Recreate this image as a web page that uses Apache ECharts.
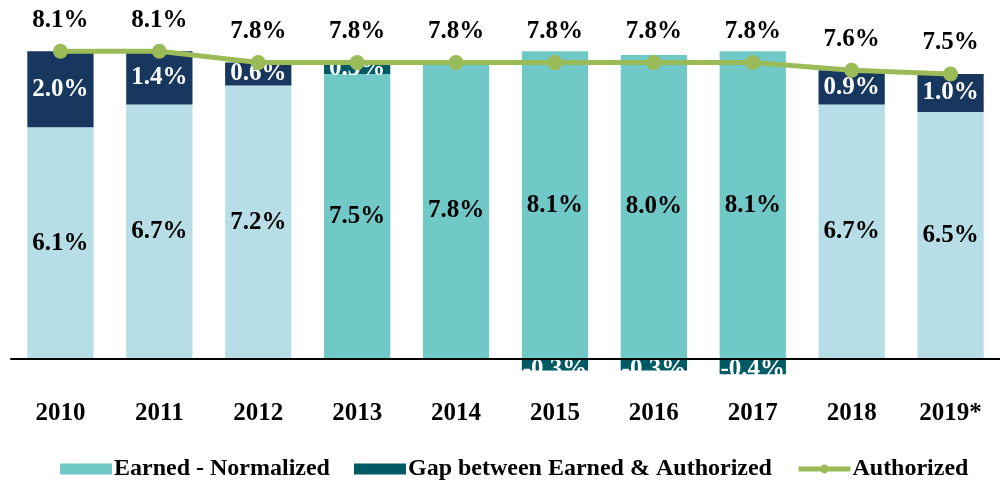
<!DOCTYPE html>
<html><head><meta charset="utf-8">
<script src="https://cdn.jsdelivr.net/npm/echarts@6/dist/echarts.min.js"></script>
<style>html,body{margin:0;padding:0;background:#fff}#c{width:1000px;height:481px}</style>
</head><body><div id="c"></div>
<script>
var years = ['2010','2011','2012','2013','2014','2015','2016','2017','2018','2019*'];
var earned = [6.1, 6.7, 7.2, 7.5, 7.8, 8.1, 8.0, 8.1, 6.7, 6.5];
var gap = [2.0, 1.4, 0.6, 0.3, 0, -0.3, -0.3, -0.4, 0.9, 1.0];
var authorized = [8.1, 8.1, 7.8, 7.8, 7.8, 7.8, 7.8, 7.8, 7.6, 7.5];
var earnedColors = ['#b7dde7','#b7dde7','#b7dde7','#70c9c6','#70c9c6','#70c9c6','#70c9c6','#70c9c6','#b7dde7','#b7dde7'];
var gapColors = ['#17375e','#17375e','#17375e','#005a64','#005a64','#005a64','#005a64','#005a64','#17375e','#17375e'];

var FONT = 'Liberation Serif';
var fmt = function(v){ return v.toFixed(1) + '%'; };

var chart = echarts.init(document.getElementById('c'));
chart.setOption({
  animation: false,
  textStyle: { fontFamily: FONT },
  grid: { left: 11, width: 993, top: 17, bottom: 84, containLabel: false },
  legend: {
    top: 452, left: 55,
    itemWidth: 52, itemHeight: 11, itemGap: 24,
    textStyle: { fontFamily: FONT, fontWeight: 'bold', fontSize: 24, color: '#000', padding: [0,0,0,-3] },
    data: [
      { name: 'Earned - Normalized', icon: 'rect' },
      { name: 'Gap between Earned & Authorized', icon: 'rect' },
      { name: 'Authorized', lineStyle: { width: 5 } }
    ]
  },
  xAxis: {
    type: 'category', data: years, z: 10,
    axisLine: { onZero: true, lineStyle: { color: '#000', width: 2 } },
    axisTick: { show: false },
    axisLabel: { margin: 4, fontFamily: FONT, fontWeight: 'bold', fontSize: 25, color: '#000' }
  },
  yAxis: { type: 'value', min: -1, max: 9, show: false, splitLine: { show: false } },
  series: [
    {
      name: 'Earned - Normalized', type: 'bar', stack: 'a', barWidth: '67%',
      itemStyle: { color: '#70c9c6' },
      data: earned.map(function(v, i){ return { value: v, itemStyle: { color: earnedColors[i] } }; }),
      label: { show: true, position: 'inside', fontFamily: FONT, fontWeight: 'bold', fontSize: 25, color: '#000',
        formatter: function(p){ return fmt(p.value); } }
    },
    {
      name: 'Gap between Earned & Authorized', type: 'bar', stack: 'a', barWidth: '67%',
      itemStyle: { color: '#005a64' },
      data: gap.map(function(v, i){
        var d = { value: v, itemStyle: { color: gapColors[i] } };
        if (v < 0) d.label = { position: 'insideTop', distance: 0, offset: [0, -2] };
        return d;
      }),
      label: { show: true, position: 'inside', fontFamily: FONT, fontWeight: 'bold', fontSize: 25, color: '#fff',
        formatter: function(p){ return p.value === 0 ? '' : fmt(p.value); } }
    },
    {
      name: 'Authorized', type: 'line', data: authorized, z: 3,
      itemStyle: { color: '#9bbb59' },
      lineStyle: { color: '#9bbb59', width: 5 },
      symbol: 'circle', symbolSize: 15,
      label: { show: true, position: 'top', distance: 11, fontFamily: FONT, fontWeight: 'bold', fontSize: 25, color: '#000',
        formatter: function(p){ return fmt(p.value); } }
    }
  ]
});
</script></body></html>
